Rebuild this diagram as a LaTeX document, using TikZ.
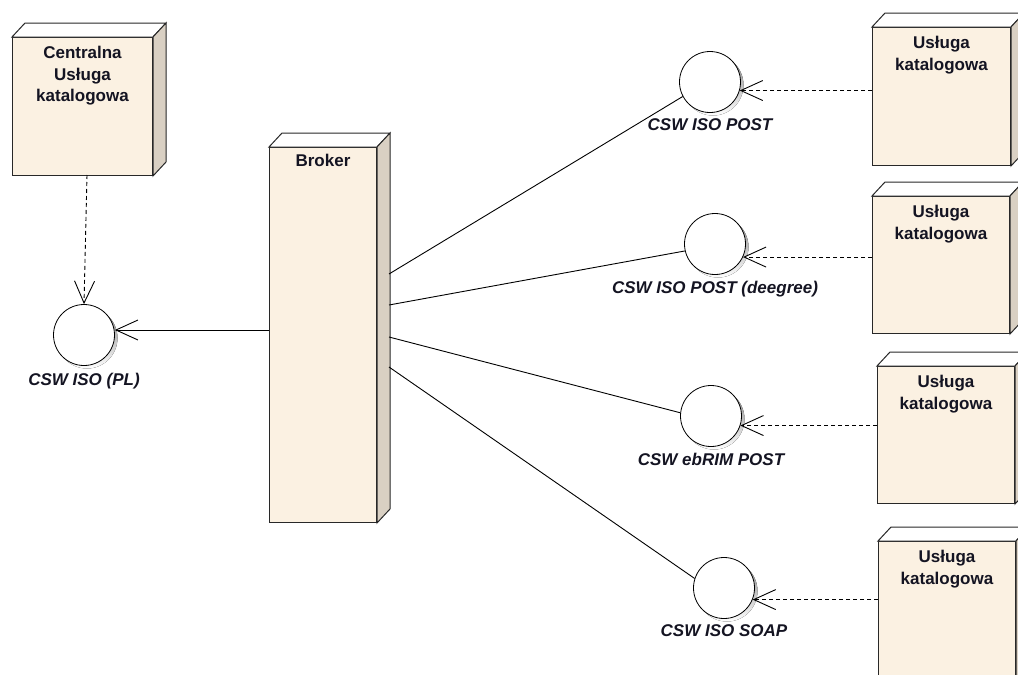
\documentclass[tikz,border=0pt]{standalone}
\usepackage{fontspec}
\setmainfont{Liberation Sans}
\usetikzlibrary{arrows.meta,backgrounds}
\definecolor{frontfill}{RGB}{251,241,226}
\definecolor{sidefill}{RGB}{217,208,195}
\definecolor{edge}{RGB}{40,40,40}
\definecolor{ink}{RGB}{20,20,34}
\definecolor{shade}{RGB}{196,196,196}
\begin{document}
\begin{tikzpicture}[x=1pt,y=1pt,line width=1pt,
  nodebox/.style={draw=edge,fill=frontfill,rectangle,inner sep=0pt,anchor=north west},
  boxtitle/.style={font=\fontsize{17}{21.5}\selectfont\bfseries,text=ink,align=center,inner sep=0pt,anchor=north},
  iface/.style={circle,draw=black,line width=0.8pt,fill=white,minimum size=61pt,inner sep=0pt},
  ifacename/.style={font=\fontsize{17}{21}\selectfont\bfseries\itshape,text=ink,inner sep=0pt,anchor=north},
  link/.style={draw=black,line width=0.9pt},
  usage/.style={draw=black,line width=0.9pt,-{Straight Barb[length=22pt,width=20pt]}},
  dep/.style={usage,dash pattern=on 4pt off 3pt},
  topface/.style={draw=edge,fill=white},
  sideface/.style={draw=edge,fill=sidefill}]
\useasboundingbox (0,0) rectangle (1018,-675);

% deployment nodes (front faces)
\node[nodebox,minimum width=140pt,minimum height=138pt] (central) at (12,-37) {};
\node[nodebox,minimum width=107pt,minimum height=375pt] (broker) at (269,-147) {};
\node[nodebox,minimum width=138pt,minimum height=138pt] (s1) at (872,-27) {};
\node[nodebox,minimum width=137pt,minimum height=137pt] (s2) at (872,-196) {};
\node[nodebox,minimum width=137pt,minimum height=137pt] (s3) at (877,-366) {};
\node[nodebox,minimum width=137pt,minimum height=150pt] (s4) at (878,-541) {};

% top and side faces giving the boxes their depth
\foreach \n in {central,broker,s1,s2,s3,s4}{
  \filldraw[topface] (\n.north west) -- ++(13,14) -- ([shift={(13,14)}]\n.north east) -- (\n.north east) -- cycle;
  \filldraw[sideface] (\n.north east) -- ++(13,14) -- ([shift={(13,14)}]\n.south east) -- (\n.south east) -- cycle;
}

% node titles
\node[boxtitle] (central-title) at ([yshift=-9pt]central.north) {Centralna\\Usługa\\katalogowa};
\node[boxtitle] (broker-title) at ([yshift=-7pt]broker.north) {Broker};
\node[boxtitle] (s1-title) at ([yshift=-9pt]s1.north) {Usługa\\katalogowa};
\node[boxtitle] (s2-title) at ([yshift=-9pt]s2.north) {Usługa\\katalogowa};
\node[boxtitle] (s3-title) at ([yshift=-9pt]s3.north) {Usługa\\katalogowa};
\node[boxtitle] (s4-title) at ([yshift=-9pt]s4.north) {Usługa\\katalogowa};

% provided interfaces
\node[iface] (pl) at (84,-335) {};
\node[iface] (post) at (710,-82) {};
\node[iface] (deegree) at (715,-244) {};
\node[iface] (ebrim) at (711,-416) {};
\node[iface] (soap) at (724,-588) {};

% soft shadows behind the interface circles
\begin{scope}[on background layer]
  \foreach \n in {pl,post,deegree,ebrim,soap}
    \fill[shade] ([shift={(3,-3)}]\n.center) circle (30.5);
\end{scope}

\node[ifacename] (pl-name) at ([yshift=-7pt]pl.south) {CSW ISO (PL)};
\node[ifacename] (post-name) at ([yshift=-5pt]post.south) {CSW ISO POST};
\node[ifacename] (deegree-name) at ([yshift=-6pt]deegree.south) {CSW ISO POST (deegree)};
\node[ifacename] (ebrim-name) at ([yshift=-6pt]ebrim.south) {CSW ebRIM POST};
\node[ifacename] (soap-name) at ([yshift=-5pt]soap.south) {CSW ISO SOAP};

% connector ends on the broker
\coordinate (b0) at (269,-330);
\coordinate (p1) at (389,-274);
\coordinate (p2) at (389,-305);
\coordinate (p3) at (389,-337);
\coordinate (p4) at (389,-367);
\coordinate (c0) at (87,-175);

% broker uses the central interface
\draw[usage] (b0) -- (b0 -| pl.east);
\draw[dep] (c0) -- (pl.north);

% broker realises the outgoing interfaces
\draw[link] (p1) -- (post.208);
\draw[link] (p2) -- (deegree.193);
\draw[link] (p3) -- (ebrim.174);
\draw[link] (p4) -- (soap.162);

% catalogue services depend on their interfaces
\draw[dep] (s1.west |- post.344) -- (post.344);
\draw[dep] (s2.west |- deegree.335) -- (deegree.335);
\draw[dep] (s3.west |- ebrim.342) -- (ebrim.342);
\draw[dep] (s4.west |- soap.338) -- (soap.338);
\end{tikzpicture}
\end{document}
